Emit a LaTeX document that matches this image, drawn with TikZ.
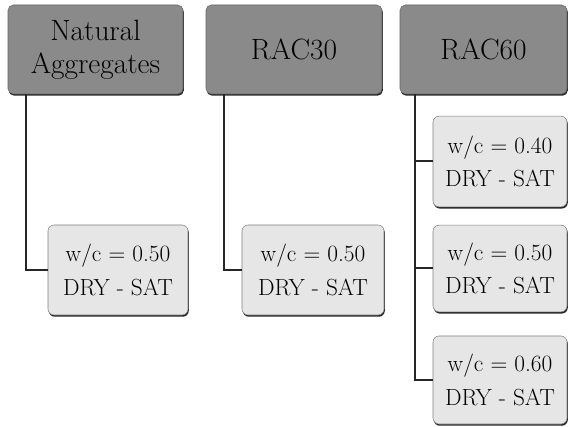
\documentclass[tikz,border=0pt]{standalone}
\usetikzlibrary{shadows}
\definecolor{headgray}{RGB}{138,138,138}
\definecolor{subgray}{RGB}{230,230,230}
\begin{document}
\begin{tikzpicture}[x=0.75pt, y=-0.75pt,
  topbox/.style={draw=black!60, fill=headgray, rounded corners=4pt, align=center, inner sep=0pt,
    minimum height=66.75pt, font=\fontsize{22}{25}\selectfont,
    drop shadow={shadow xshift=0.6pt, shadow yshift=-1.3pt, fill=black!85, opacity=1}},
  subbox/.style={draw=black!50, fill=subgray, rounded corners=4.5pt, align=center, inner sep=0pt,
    font=\fontsize{17.5}{25}\selectfont,
    drop shadow={shadow xshift=0.6pt, shadow yshift=-1.3pt, fill=black!85, opacity=1}},
  branch/.style={line width=1.5pt, black!85}]
\useasboundingbox (0,0) rectangle (571,427);
% heads
\node[topbox, minimum width=131.25pt] (na) at (95.5,49.5) {Natural\\Aggregates};
\node[topbox, minimum width=132pt] (rac30) at (294,49.5) {RAC30};
\node[topbox, minimum width=125.25pt] (rac60) at (483.5,49.5) {RAC60};
% mixes
\node[subbox, minimum width=105pt, minimum height=67.5pt] (na50) at (118,270) {w/c = 0.50\\DRY - SAT};
\node[subbox, minimum width=106.5pt, minimum height=67.5pt] (rac30w50) at (313,270) {w/c = 0.50\\DRY - SAT};
\node[subbox, minimum width=100.5pt, minimum height=68pt] (rac60w40) at (500,161.5) {w/c = 0.40\\DRY - SAT};
\node[subbox, minimum width=100.5pt, minimum height=65pt] (rac60w50) at (500,268.5) {w/c = 0.50\\DRY - SAT};
\node[subbox, minimum width=100.5pt, minimum height=66pt] (rac60w60) at (500,380) {w/c = 0.60\\DRY - SAT};
% branches
\coordinate (nafoot) at ([xshift=13.5pt]na.south west);
\coordinate (rac30foot) at ([xshift=14pt]rac30.south west);
\coordinate (rac60foot) at ([xshift=11.25pt]rac60.south west);
\draw[branch] (nafoot) |- (na50.west);
\draw[branch] (rac30foot) |- (rac30w50.west);
\draw[branch] (rac60foot) |- (rac60w40.west);
\draw[branch] (rac60foot) |- (rac60w50.west);
\draw[branch] (rac60foot) |- (rac60w60.west);
\end{tikzpicture}
\end{document}
